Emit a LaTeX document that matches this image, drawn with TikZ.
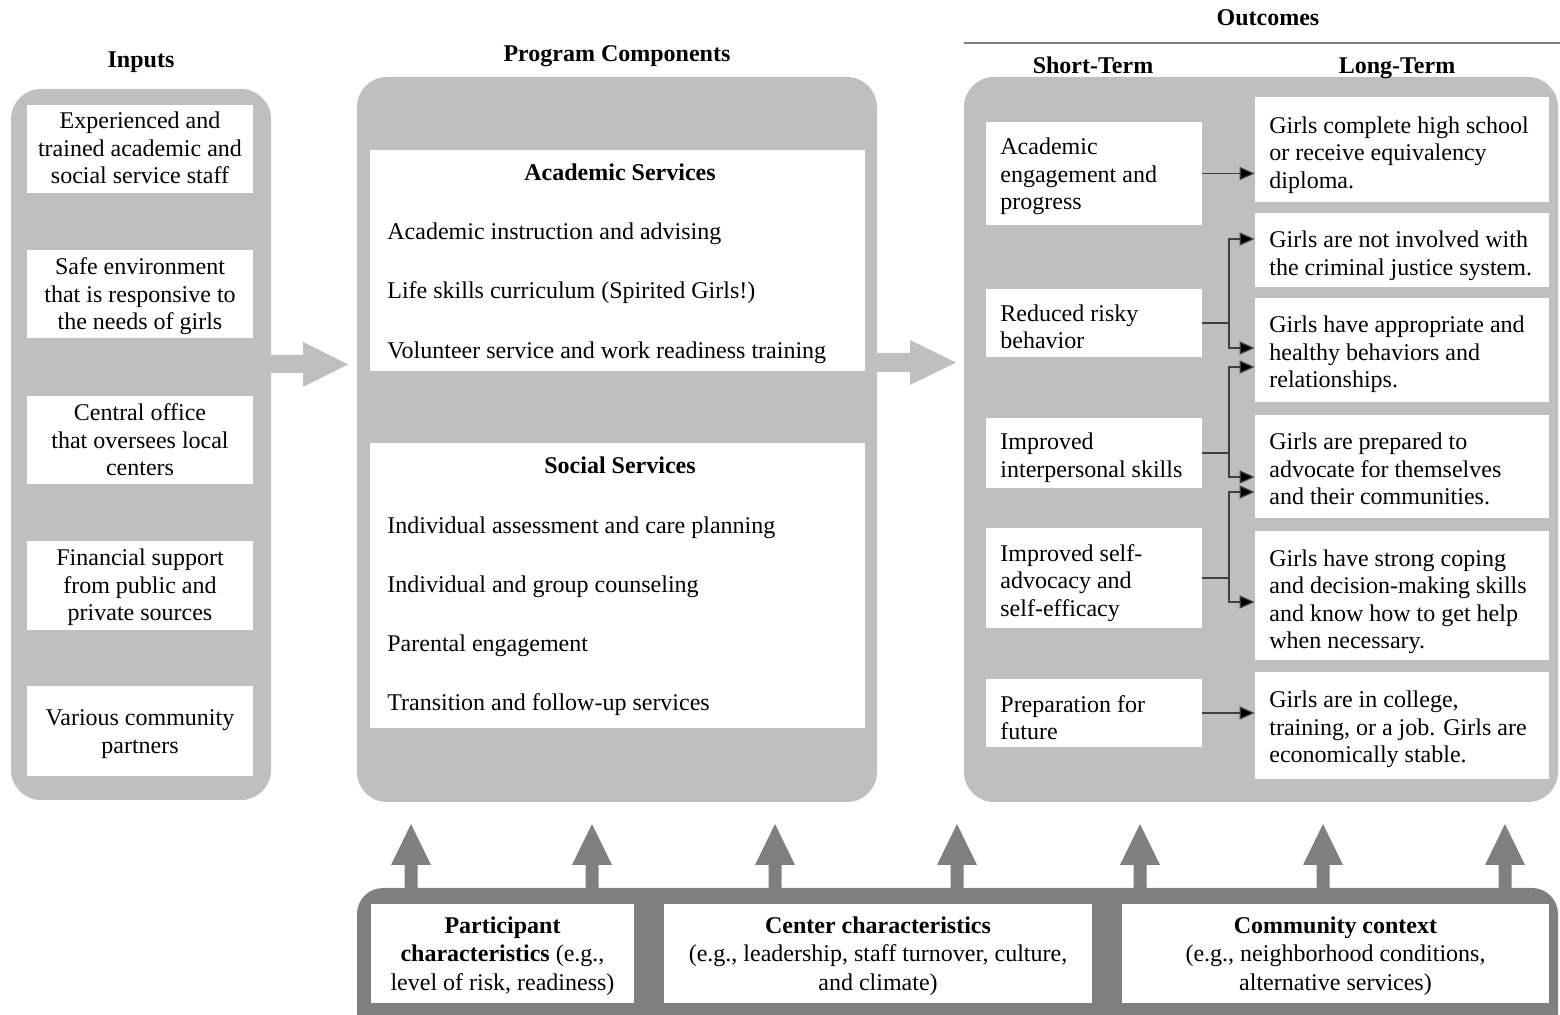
\documentclass[tikz,border=0pt]{standalone}
\usepackage{fontspec}
\setmainfont{Liberation Serif}
\usetikzlibrary{arrows.meta,calc}
\definecolor{lgray}{HTML}{BFBFBF}
\definecolor{dgray}{HTML}{7F7F7F}
\definecolor{lineg}{HTML}{404040}
\begin{document}
\begin{tikzpicture}[x=0.5pt,y=-0.5pt,
  every node/.style={font=\fontsize{12}{13.75}\selectfont},
  panel/.style={fill=lgray, rounded corners=15pt, minimum width=#1, inner sep=0pt},
  hdr/.style={font=\fontsize{12}{13.75}\selectfont\bfseries, inner sep=0pt, text height=9pt, text depth=3pt},
  wbox/.style={fill=white, draw=none, inner sep=0pt},
  struts/.style={execute at begin node=\strut, execute at end node=\strut},
  ibox/.style={wbox, minimum width=113pt, align=center, struts},
  txt/.style={anchor=west, inner sep=0pt, align=left, struts, yshift=-2pt},
  item/.style={anchor=west, inner sep=0pt, text height=9pt, text depth=3pt},
  btbox/.style={wbox, align=center, minimum height=49.5pt, font=\fontsize{12}{14.25}\selectfont, struts},
  conn/.style={draw=lineg, line width=0.6pt},
  arr/.style={conn, -{Triangle[length=7.5pt,width=6.5pt,fill=black]}},
  blockarrow/.style={fill=lgray, draw=none},
  uparrow/.style={fill=dgray, draw=none}
]
\clip (0,0) rectangle (1560,1015);
\useasboundingbox (0,0) rectangle (1560,1015);

% ---------- panels ----------
\node[panel=130pt, minimum height=355.5pt] (inp) at (141,444.5) {};
\node[panel=260pt, minimum height=362.5pt] (prog) at (617,439.5) {};
\node[panel=297pt, minimum height=362.5pt] (outc) at (1261,439.5) {};
\node[fill=dgray, rounded corners=13pt, minimum width=600.5pt, minimum height=76pt, inner sep=0pt] (bar) at (957.5,964) {};

% ---------- headers ----------
\node[hdr] (hinp) at (141,62) {Inputs};
\node[hdr] (hprog) at (617,56) {Program Components};
\node[hdr] (hout) at (1268,20) {Outcomes};
\draw[draw=dgray, line width=0.6pt] (964,43) -- (1560,43);
\node[hdr] (hst) at (1093,68) {Short-Term};
\node[hdr] (hlt) at (1397,68) {Long-Term};

% ---------- inputs ----------
\node[wbox, minimum width=113pt, minimum height=44pt] (in1) at (140,149) {};
\node[wbox, minimum width=113pt, minimum height=44pt] (in2) at (140,294) {};
\node[wbox, minimum width=113pt, minimum height=44pt] (in3) at (140,440) {};
\node[wbox, minimum width=113pt, minimum height=44.5pt] (in4) at (140,585.5) {};
\node[wbox, minimum width=113pt, minimum height=45pt] (in5) at (140,731) {};
\node[txt, anchor=center, align=center] (in1t) at (140,148) {Experienced and\\trained academic and\\social service staff};
\node[txt, anchor=center, align=center] (in2t) at (140,294) {Safe environment\\that is responsive to\\the needs of girls};
\node[txt, anchor=center, align=center] (in3t) at (140,440) {Central office\\that oversees local\\centers};
\node[txt, anchor=center, align=center] (in4t) at (140,585) {Financial support\\from public and\\private sources};
\node[txt, anchor=center, align=center] (in5t) at (140,731.5) {Various community\\partners};

% ---------- program components ----------
\node[wbox, minimum width=247.5pt, minimum height=110.5pt] (acad) at (617.5,260.5) {};
\node[hdr] (acadt) at (620,175) {Academic Services};
\node[item] (a1) at (387,234) {Academic instruction and advising};
\node[item] (a2) at (387,293) {Life skills curriculum (Spirited Girls!)};
\node[item] (a3) at (387,353) {Volunteer service and work readiness training};

\node[wbox, minimum width=247.5pt, minimum height=142.5pt] (soc) at (617.5,585.5) {};
\node[hdr] (soct) at (620,468) {Social Services};
\node[item] (s1) at (387,528) {Individual assessment and care planning};
\node[item] (s2) at (387,587) {Individual and group counseling};
\node[item] (s3) at (387,646) {Parental engagement};
\node[item] (s4) at (387,705) {Transition and follow-up services};

% ---------- block arrows ----------
\fill[blockarrow] (266,355) -- (303,355) -- (303,342) -- (348,364.5) -- (303,387) -- (303,373) -- (266,373) -- cycle;
\fill[blockarrow] (872,353) -- (910,353) -- (910,340) -- (956,362.5) -- (910,385) -- (910,372) -- (872,372) -- cycle;

% ---------- short-term ----------
\node[wbox, minimum width=108pt, minimum height=51.5pt] (st1) at (1094,173.5) {};
\node[wbox, minimum width=108pt, minimum height=34pt] (st2) at (1094,323) {};
\node[wbox, minimum width=108pt, minimum height=35pt] (st3) at (1094,453) {};
\node[wbox, minimum width=108pt, minimum height=50pt] (st4) at (1094,578) {};
\node[wbox, minimum width=108pt, minimum height=34pt] (st5) at (1094,713) {};
\node[txt] (st1t) at (1000,174) {Academic\\engagement and\\progress};
\node[txt] (st2t) at (1000,327) {Reduced risky\\behavior};
\node[txt] (st3t) at (1000,455.5) {Improved\\interpersonal skills};
\node[txt] (st4t) at (1000,580.5) {Improved self-\\advocacy and\\self-efficacy};
\node[txt] (st5t) at (1000,717.5) {Preparation for\\future};

% ---------- long-term ----------
\node[wbox, minimum width=147pt, minimum height=52.5pt] (lt1) at (1402,149.5) {};
\node[wbox, minimum width=147pt, minimum height=37pt] (lt2) at (1402,250) {};
\node[wbox, minimum width=147pt, minimum height=52pt] (lt3) at (1402,350) {};
\node[wbox, minimum width=147pt, minimum height=51.5pt] (lt4) at (1402,466.5) {};
\node[wbox, minimum width=147pt, minimum height=64.5pt] (lt5) at (1402,595.5) {};
\node[wbox, minimum width=147pt, minimum height=53.5pt] (lt6) at (1402,725.5) {};
\node[txt] (lt1t) at (1269,152.5) {Girls complete high school\\or receive equivalency\\diploma.};
\node[txt] (lt2t) at (1269,253.5) {Girls are not involved with\\the criminal justice system.};
\node[txt] (lt3t) at (1269,352) {Girls have appropriate and\\healthy behaviors and\\relationships.};
\node[txt] (lt4t) at (1269,469) {Girls are prepared to\\advocate for themselves\\and their communities.};
\node[txt] (lt5t) at (1269,599.5) {Girls have strong coping\\and decision-making skills\\and know how to get help\\when necessary.};
\node[txt] (lt6t) at (1269,727) {Girls are in college,\\training, or a job. Girls are\\economically stable.};

% ---------- connectors ----------
\coordinate (j2) at (1229,323);
\coordinate (j3) at (1229,453);
\coordinate (j4) at (1229,578);
\draw[arr] (st1.east) -- (st1.east -| lt1.west);
\draw[conn] (st2.east) -- (j2);
\draw[arr] (j2) |- ($(lt2.west)+(0,-11)$);
\draw[arr] (j2) |- ($(lt3.west)+(0,-2)$);
\draw[conn] (st3.east) -- (j3);
\draw[arr] (j3) |- ($(lt3.west)+(0,17)$);
\draw[arr] (j3) |- ($(lt4.west)+(0,10.5)$);
\draw[conn] (st4.east) -- (j4);
\draw[arr] (j4) |- ($(lt4.west)+(0,25.5)$);
\draw[arr] (j4) |- ($(lt5.west)+(0,6.5)$);
\draw[arr] (st5.east) -- (st5.east -| lt6.west);

% ---------- up arrows ----------
\foreach \ux in {411,592,775,957,1140,1323,1505}{
  \fill[uparrow] (\ux-6.5,893) -- (\ux-6.5,865) -- (\ux-20,865) -- (\ux,824) -- (\ux+20,865) -- (\ux+6.5,865) -- (\ux+6.5,893) -- cycle;
}

% ---------- context boxes ----------
\node[wbox, minimum width=131.5pt, minimum height=49.5pt] (pc) at (502.5,953.5) {};
\node[wbox, minimum width=214pt, minimum height=49.5pt] (cc) at (878,953.5) {};
\node[wbox, minimum width=213.5pt, minimum height=49.5pt] (cx) at (1335.5,953.5) {};
\begin{scope}[every node/.append style={font=\fontsize{12}{14.25}\selectfont}]
\node[txt, anchor=center, align=center] (pct) at (502.5,953.7) {\textbf{Participant}\\\textbf{characteristics} (e.g.,\\level of risk, readiness)};
\node[txt, anchor=center, align=center] (cct) at (878,953.7) {\textbf{Center characteristics}\\(e.g., leadership, staff turnover, culture,\\and climate)};
\node[txt, anchor=center, align=center] (cxt) at (1335.5,953.7) {\textbf{Community context}\\(e.g., neighborhood conditions,\\alternative services)};
\end{scope}
\end{tikzpicture}
\end{document}
